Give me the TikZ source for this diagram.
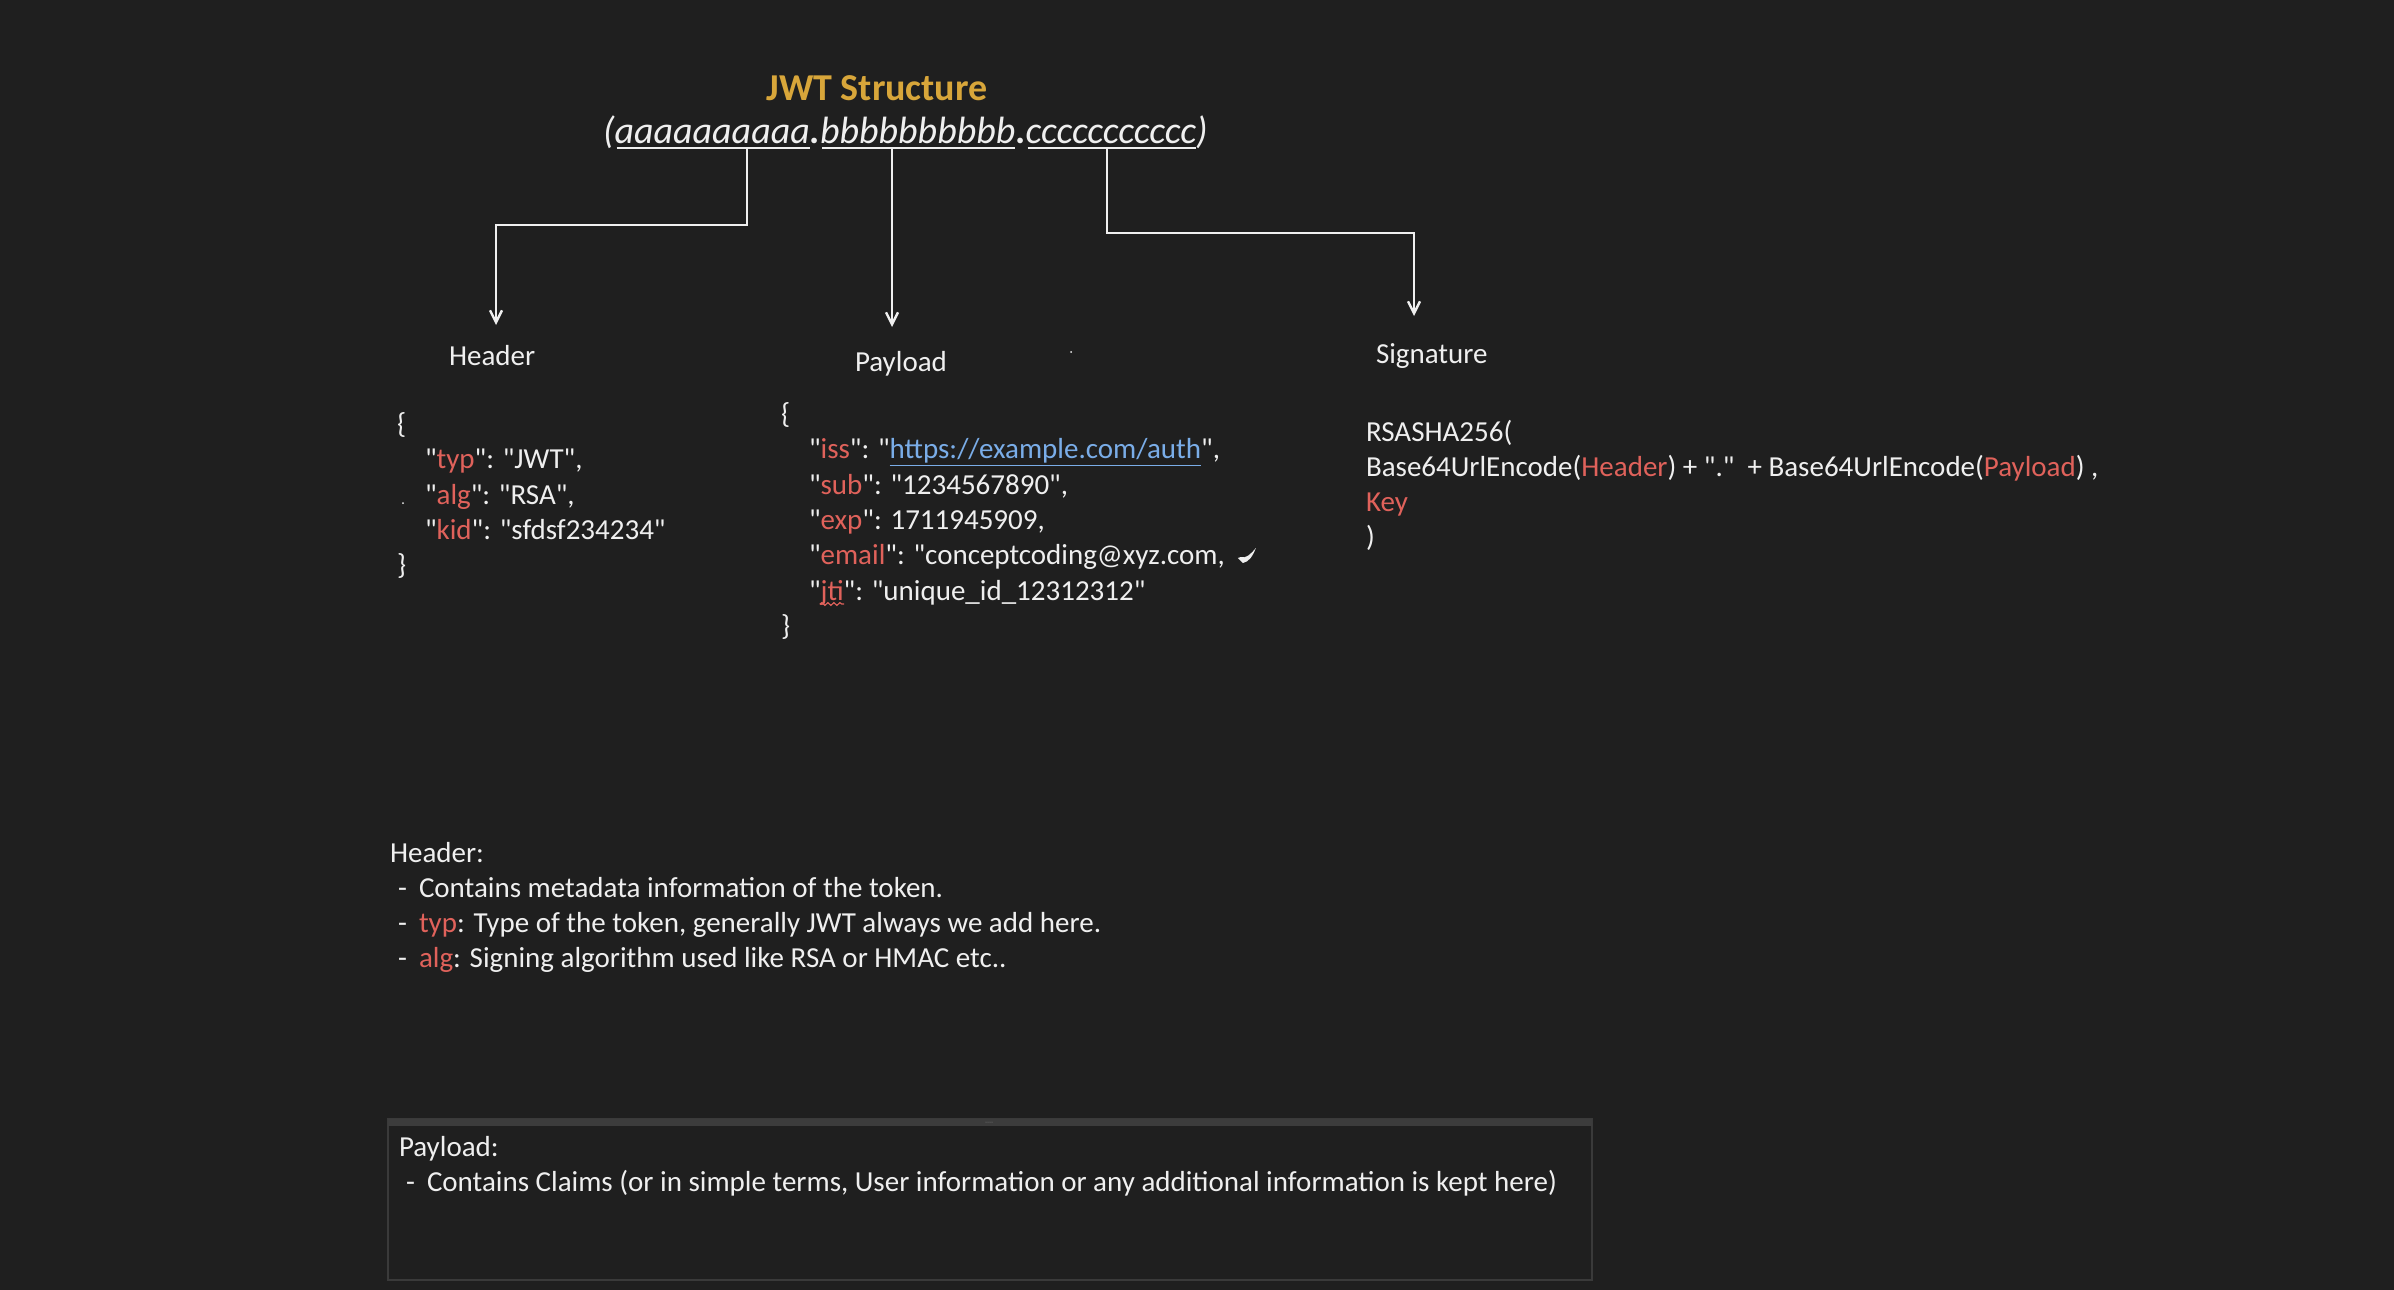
\documentclass[tikz,border=0pt]{standalone}
\usepackage{fontspec}
\setmainfont{Carlito}[Ligatures=TeXOff]
\usetikzlibrary{arrows.meta,calc,decorations.pathmorphing}
\definecolor{bg}{HTML}{1F1F1F}
\definecolor{fg}{HTML}{EFEFEF}
\definecolor{keyred}{HTML}{E0625B}
\definecolor{linkblue}{HTML}{7AADE8}
\definecolor{gold}{HTML}{D8A63A}
\definecolor{boxline}{HTML}{3A3A3A}
\definecolor{barcol}{HTML}{3C3C3C}
\newcommand\jkey[1]{\textcolor{keyred}{#1}}
\begin{document}
\begin{tikzpicture}[x=0.5pt,y=-0.5pt,
  txt/.style={anchor=base west,inner sep=0pt,outer sep=0pt,text=fg,font=\fontsize{14.5}{17}\selectfont},
  lbl/.style={anchor=base west,inner sep=0pt,outer sep=0pt,text=fg,font=\fontsize{14.5}{17}\selectfont},
  tok/.style={anchor=base west,inner sep=0pt,outer sep=0pt,text=fg,font=\fontsize{19}{22}\selectfont\itshape},
  arr/.style={draw=fg,line width=1.2pt,-{Straight Barb[length=6pt,width=6pt]}},
  uline/.style={draw=fg,line width=1pt}]
\fill[bg] (0,0) rectangle (2394,1290);
\useasboundingbox (0,0) rectangle (2394,1290);

% title
\node[anchor=base,inner sep=0pt,text=gold,font=\fontsize{19}{22}\selectfont\bfseries] (title) at (877,100) {JWT Structure};

% token
\node[tok] (tp1) at (603,143) {(};
\node[tok] (ta) at (tp1.base east) {aaaaaaaaaa};
\node[tok] (td1) at (ta.base east) {\upshape\bfseries .};
\node[tok] (tb) at (td1.base east) {bbbbbbbbbb};
\node[tok] (td2) at (tb.base east) {\upshape\bfseries .};
\node[tok] (tc) at (td2.base east) {ccccccccccc};
\node[tok] (tp2) at (tc.base east) {)};
\draw[uline] ($(ta.base west)+(2,5)$) -- ($(ta.base east)+(0,5)$);
\draw[uline] ($(tb.base west)+(2,5)$) -- ($(tb.base east)+(0,5)$);
\draw[uline] ($(tc.base west)+(2,5)$) -- ($(tc.base east)+(0,5)$);

% section labels
\node[lbl] (hdr) at (449,365) {Header};
\node[lbl] (pay) at (855,371) {Payload};
\node[lbl] (sig) at (1376,363) {Signature};

\coordinate (hdrtip) at (496,325);
\coordinate (paytip) at (892,327);
\coordinate (sigtip) at (1414,316);
\draw[arr] ($(ta.base)+(35,5)$) -- ++(0,77) -| (hdrtip);
\draw[arr] (tb.base -| paytip) ++(0,5) -- (paytip);
\draw[arr] ($(tc.base)+(-4,5)$) -- ++(0,85) -| (sigtip);

% tiny specks
\fill[fg] (403,503) circle (1);
\fill[fg] (1071,352) circle (1);

% header json
\node[txt] (h0) at (397,433) {\{};
\node[txt] (h1) at (425,468) {"\jkey{typ}": "JWT",};
\node[txt] (h2) at (425,504) {"\jkey{alg}": "RSA",};
\node[txt] (h3) at (425,539) {"\jkey{kid}": "sfdsf234234"};
\node[txt] (h4) at (397,574) {\}};

% payload json
\node[txt] (p0) at (781,423) {\{};
\node[txt] (p1) at (809,458) {"\jkey{iss}": "\textcolor{linkblue}{\underline{https://example.com/auth}}",};
\node[txt] (p2) at (809,494) {"\jkey{sub}": "1234567890",};
\node[txt] (p3) at (809,529) {"\jkey{exp}": 1711945909,};
\node[txt] (p4) at (809,564) {"\jkey{email}": "conceptcoding@xyz.com,};
\node[txt] (p5) at (809,600) {"\jkey{jti}": "unique\_id\_12312312"};
\node[txt] (p6) at (781,635) {\}};
\draw[keyred,line width=0.6pt,decorate,decoration={snake,amplitude=0.7,segment length=3}] (820,604) -- (844,604);
\fill[fg,shift={(p4.base east)}] (31,-16) .. controls (28,-8) and (24,-2) .. (18,-1) -- (13,-6) -- (16,-7) .. controls (21,-5) and (26,-10) .. cycle;

% signature
\node[txt] (s1) at (1366,441) {RSASHA256(};
\node[txt] (s2) at (1366,476) {Base64UrlEncode(\jkey{Header}) + "."\ \ + Base64UrlEncode(\jkey{Payload}) ,};
\node[txt] (s3) at (1366,511) {\jkey{Key}};
\node[txt] (s4) at (1366,546) {)};

% header notes
\node[txt] (n0) at (390,862) {Header:};
\node[txt] (n1d) at (398,897) {-};
\node[txt] (n1) at (419,897) {Contains metadata information of the token.};
\node[txt] (n2d) at (398,932) {-};
\node[txt] (n2) at (419,932) {\jkey{typ}: Type of the token, generally JWT always we add here.};
\node[txt] (n3d) at (398,967) {-};
\node[txt] (n3) at (419,967) {\jkey{alg}: Signing algorithm used like RSA or HMAC etc..};

% payload box
\draw[boxline,line width=1pt] (388,1119) rectangle (1592,1280);
\fill[barcol] (388,1119) rectangle (1592,1126);
\foreach \i in {0,1,2,3} {\fill[gray] (986+\i*2,1122) circle (0.5);}
\node[txt] (b0) at (399,1156) {Payload:};
\node[txt] (b1d) at (406,1191) {-};
\node[txt] (b1) at (427,1191) {Contains Claims (or in simple terms, User information or any additional information is kept here)};
\end{tikzpicture}
\end{document}
